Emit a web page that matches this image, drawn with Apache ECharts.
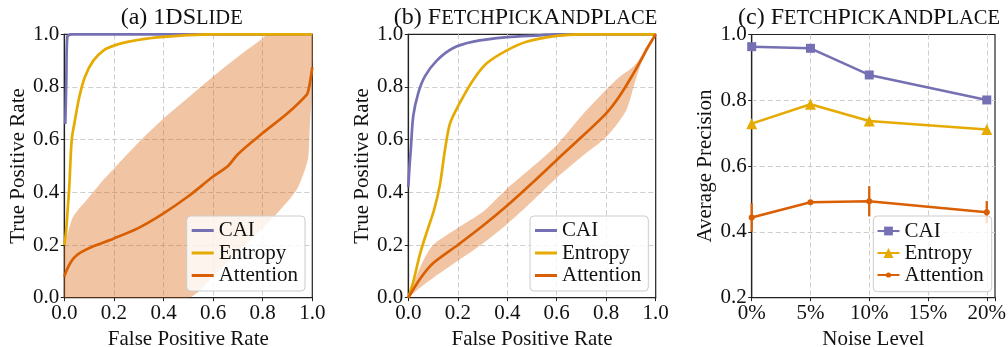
<!DOCTYPE html>
<html><head><meta charset="utf-8">
<script src="https://cdn.jsdelivr.net/npm/echarts@6/dist/echarts.min.js"></script>
<style>html,body{margin:0;padding:0;background:#fff}#c{width:1008px;height:347px}</style>
</head><body><div id="c"></div>
<script>
// ---------- data ----------
const rocTicks = [0, 0.2, 0.4, 0.6, 0.8, 1.0];
const apTicks = [0.2, 0.4, 0.6, 0.8, 1.0];
const noiseLevels = [0, 5, 10, 20];
const noiseTickLabels = ['0%', '5%', '10%', '15%', '20%'];
const seriesNames = ['CAI', 'Entropy', 'Attention'];
const titleA = ['(a) 1DS', 'LIDE'];
const titleB = ['(b) F', 'ETCH', 'P', 'ICK', 'A', 'ND', 'P', 'LACE'];
const titleC = ['(c) F', 'ETCH', 'P', 'ICK', 'A', 'ND', 'P', 'LACE'];

// (a) 1DSlide ROC
const caiA = [[0.004,0.66],[0.008,0.82],[0.012,0.99],[0.03,1.0],[1.0,1.0]];
const entA = [[0,0.2],[0.007,0.25],[0.014,0.34],[0.02,0.42],[0.03,0.6],[0.043,0.674],[0.06,0.76],[0.083,0.838],[0.117,0.9],[0.16,0.94],[0.2,0.957],[0.26,0.972],[0.318,0.982],[0.4,0.99],[0.5,0.997],[0.6,1.0],[1.0,1.0]];
const attA = [[0,0.08],[0.01,0.105],[0.023,0.13],[0.04,0.152],[0.063,0.17],[0.117,0.195],[0.2,0.225],[0.3,0.265],[0.4,0.32],[0.5,0.385],[0.6,0.46],[0.66,0.5],[0.7,0.545],[0.8,0.625],[0.9,0.7],[0.977,0.77],[0.985,0.79],[0.993,0.83],[1.0,0.875]];
const attAUpper = [[0,0.2],[0.01,0.232],[0.036,0.308],[0.09,0.371],[0.157,0.447],[0.2,0.49],[0.3,0.59],[0.4,0.68],[0.5,0.76],[0.6,0.84],[0.7,0.915],[0.8,0.985],[0.82,1.0],[1.0,1.0]];
const attALower = [[0,0],[0.5,0],[0.6,0.08],[0.7,0.175],[0.8,0.265],[0.87,0.333],[0.937,0.41],[0.97,0.485],[0.984,0.535],[0.99,0.65],[0.997,0.76],[1.0,0.87]];

// (b) FetchPickAndPlace ROC
const caiB = [[0,0.42],[0.005,0.5],[0.01,0.56],[0.02,0.69],[0.04,0.776],[0.067,0.84],[0.115,0.9],[0.18,0.947],[0.263,0.972],[0.4,0.989],[0.53,0.996],[0.6,1.0],[1.0,1.0]];
const entB = [[0,0],[0.02,0.06],[0.047,0.165],[0.075,0.25],[0.104,0.333],[0.128,0.43],[0.148,0.56],[0.168,0.66],[0.2,0.725],[0.263,0.827],[0.317,0.89],[0.4,0.94],[0.478,0.972],[0.6,0.994],[0.7,1.0],[1.0,1.0]];
const attB = [[0,0],[0.05,0.075],[0.1,0.131],[0.2,0.2],[0.3,0.272],[0.4,0.35],[0.5,0.435],[0.6,0.523],[0.7,0.61],[0.8,0.7],[0.85,0.76],[0.9,0.835],[0.937,0.896],[0.97,0.953],[1.0,1.0]];
const attBUpper = [[0,0],[0.05,0.12],[0.1,0.2],[0.2,0.265],[0.3,0.325],[0.4,0.415],[0.5,0.495],[0.6,0.58],[0.7,0.69],[0.8,0.79],[0.85,0.835],[0.9,0.87],[0.93,0.9],[0.96,0.95],[1.0,1.0]];
const attBLower = [[0,0],[0.05,0.04],[0.1,0.075],[0.2,0.14],[0.3,0.205],[0.4,0.28],[0.5,0.365],[0.6,0.455],[0.7,0.535],[0.8,0.61],[0.88,0.71],[0.92,0.83],[0.96,0.935],[1.0,1.0]];

// (c) Average precision vs noise
const caiAP = [0.963, 0.958, 0.877, 0.801];
const entAP = [0.729, 0.788, 0.737, 0.711];
const attAP = [0.444, 0.490, 0.493, 0.460];
const attAPErr = [0.043, 0.005, 0.046, 0.034];

// ---------- style ----------
const FONT = 'Liberation Serif';
const COL = { CAI: '#7570b3', Entropy: '#e6ab02', Attention: '#d95f02' };
const BAND = 'rgba(217,95,2,0.36)';
const INK = '#111';

const grids = [
  { left: 64.3, top: 34.3, width: 248, height: 263.4 },
  { left: 408.3, top: 34.3, width: 247.4, height: 263.4 },
  { left: 751.7, top: 34.5, width: 243.3, height: 263.2 }
].map(g => Object.assign(g, { show: true, borderColor: '#222', borderWidth: 1.2, backgroundColor: 'transparent', containLabel: false, outerBoundsMode: 'none' }));

function axisCommon() {
  return {
    axisLine: { show: true, lineStyle: { color: '#222', width: 1.2 } },
    axisTick: { show: true, inside: false, length: 3.5, lineStyle: { color: '#222', width: 1 } },
    splitLine: { show: true, showMinLine: false, showMaxLine: false, lineStyle: { color: '#cdcdcd', width: 1, type: [5, 3] } },
    axisLabel: { show: true, margin: 5, fontFamily: FONT, fontSize: 21, color: INK, showMinLabel: true, showMaxLabel: true },
    nameLocation: 'middle',
    nameTextStyle: { fontFamily: FONT, fontSize: 21, color: INK }
  };
}
function rocX(i) {
  const a = axisCommon();
  a.axisLabel.formatter = v => rocTicks.some(t => Math.abs(t - v) < 1e-6) ? v.toFixed(1) : '';
  return Object.assign(a, { type: 'value', gridIndex: i, min: 0, max: 1, interval: 0.2, name: 'False Positive Rate', nameGap: 26 });
}
function rocY(i, gap) {
  const a = axisCommon();
  a.axisLabel.formatter = v => v.toFixed(1);
  return Object.assign(a, { type: 'value', gridIndex: i, min: 0, max: 1, interval: 0.2, name: 'True Positive Rate', nameGap: gap });
}
const xC = (() => {
  const a = axisCommon();
  a.axisLabel.formatter = v => { const k = noiseTickLabels.indexOf(Math.round(v) + '%'); return (Math.abs(v - Math.round(v)) < 1e-6 && k >= 0) ? noiseTickLabels[k] : ''; };
  return Object.assign(a, { type: 'value', gridIndex: 2, min: 0, max: 20.7, interval: 5, name: 'Noise Level', nameGap: 26 });
})();
const yC = (() => {
  const a = axisCommon();
  a.axisLabel.formatter = v => apTicks.some(t => Math.abs(t - v) < 1e-6) ? v.toFixed(1) : '';
  return Object.assign(a, { type: 'value', gridIndex: 2, min: 0.2, max: 1.0, interval: 0.2, name: 'Average Precision', nameGap: 36 });
})();

function rocLine(name, tag, data, idx) {
  return {
    type: 'line', name: name + '#' + tag, xAxisIndex: idx, yAxisIndex: idx, data: data,
    symbol: 'none', showSymbol: false, smooth: 0.3, clip: true,
    lineStyle: { color: COL[name], width: 2.7 }, itemStyle: { color: COL[name] }, z: 3, silent: true
  };
}
function band(upper, lower, idx) {
  return {
    type: 'custom', xAxisIndex: idx, yAxisIndex: idx, data: [[0.5, 0.5]], encode: { x: 0, y: 1 }, z: 1, silent: true, clip: true,
    renderItem: (params, api) => {
      const pts = upper.map(p => api.coord(p)).concat(lower.slice().reverse().map(p => api.coord(p)));
      return { type: 'polygon', shape: { points: pts, smooth: 0.25 }, style: { fill: BAND } };
    }
  };
}
function apLine(name, vals, symbol, size) {
  return {
    type: 'line', name: name + '#c', xAxisIndex: 2, yAxisIndex: 2,
    data: noiseLevels.map((x, i) => [x, vals[i]]),
    symbol: symbol, symbolSize: size, showSymbol: true, clip: false,
    lineStyle: { color: COL[name], width: 2.5 }, itemStyle: { color: COL[name] }, z: 3, silent: true
  };
}
const errBars = {
  type: 'custom', name: 'attErr', xAxisIndex: 2, yAxisIndex: 2, z: 2, silent: true,
  data: noiseLevels.map((x, i) => [x, attAP[i] - attAPErr[i], attAP[i] + attAPErr[i]]),
  encode: { x: 0, y: [1, 2] },
  renderItem: (params, api) => {
    const p1 = api.coord([api.value(0), api.value(1)]);
    const p2 = api.coord([api.value(0), api.value(2)]);
    return { type: 'line', shape: { x1: p1[0], y1: p1[1], x2: p2[0], y2: p2[1] }, style: { stroke: COL.Attention, lineWidth: 2.3 } };
  }
};

function richTitle(parts, center) {
  const s = parts.map((p, i) => '{' + (i % 2 === 0 ? 'n' : 's') + '|' + p + '}').join('');
  return {
    text: s, left: center, top: 3, textAlign: 'center', padding: 0,
    textStyle: {
      fontFamily: FONT, fontSize: 24, fontWeight: 'normal', color: INK,
      rich: {
        n: { fontFamily: FONT, fontSize: 24, fontWeight: 'normal', color: INK, verticalAlign: 'bottom', lineHeight: 27 },
        s: { fontFamily: FONT, fontSize: 20.5, fontWeight: 'normal', color: INK, verticalAlign: 'bottom', lineHeight: 27, padding: [0, 0, 1, 0] }
      }
    }
  };
}
const legendText = { fontFamily: FONT, fontSize: 21, color: INK, lineHeight: 21 };
function lineLegend(tag, left) {
  return {
    orient: 'vertical', left: left, top: 216, padding: [4, 7, 5, 5], itemGap: 1.5, itemWidth: 22, itemHeight: 3, icon: 'rect',
    backgroundColor: 'rgba(255,255,255,0.8)', borderColor: '#cccccc', borderWidth: 1, borderRadius: 4,
    selectedMode: false, data: seriesNames.map(n => n + '#' + tag), formatter: n => n.split('#')[0],
    textStyle: legendText, z: 10
  };
}
// panel (c): one legend entry per marker size, on a shared box
const markerLegendH = { CAI: 11, Entropy: 12.5, Attention: 6.5 };
const markerLegendY = { CAI: 231, Entropy: 253, Attention: 275 };
function markerLegend(name) {
  return {
    orient: 'vertical', left: 876.5, top: markerLegendY[name] - 10.5, padding: 0, itemWidth: 22, itemHeight: markerLegendH[name],
    selectedMode: false, data: [name + '#c'], formatter: n => n.split('#')[0], textStyle: legendText, z: 10
  };
}

const option = {
  animation: false,
  backgroundColor: '#ffffff',
  title: [richTitle(titleA, 181.7), richTitle(titleB, 525.5), richTitle(titleC, 869)],
  grid: grids,
  xAxis: [rocX(0), rocX(1), xC],
  yAxis: [rocY(0, 28), rocY(1, 29), yC],
  legend: [lineLegend('a', 186.7), lineLegend('b', 530)].concat(seriesNames.map(markerLegend)),
  graphic: [{
    type: 'rect', z: 6, silent: true,
    shape: { x: 873.3, y: 216, width: 118.4, height: 75.7, r: 4 },
    style: { fill: 'rgba(255,255,255,0.8)', stroke: '#cccccc', lineWidth: 1 }
  }],
  series: [
    band(attAUpper, attALower, 0),
    rocLine('CAI', 'a', caiA, 0), rocLine('Entropy', 'a', entA, 0), rocLine('Attention', 'a', attA, 0),
    band(attBUpper, attBLower, 1),
    rocLine('CAI', 'b', caiB, 1), rocLine('Entropy', 'b', entB, 1), rocLine('Attention', 'b', attB, 1),
    errBars,
    apLine('CAI', caiAP, 'rect', 9), apLine('Entropy', entAP, 'triangle', 11), apLine('Attention', attAP, 'circle', 6)
  ]
};
const chart = echarts.init(document.getElementById('c'), null, { renderer: 'canvas', width: 1008, height: 347 });
chart.setOption(option);
</script>
</body></html>
